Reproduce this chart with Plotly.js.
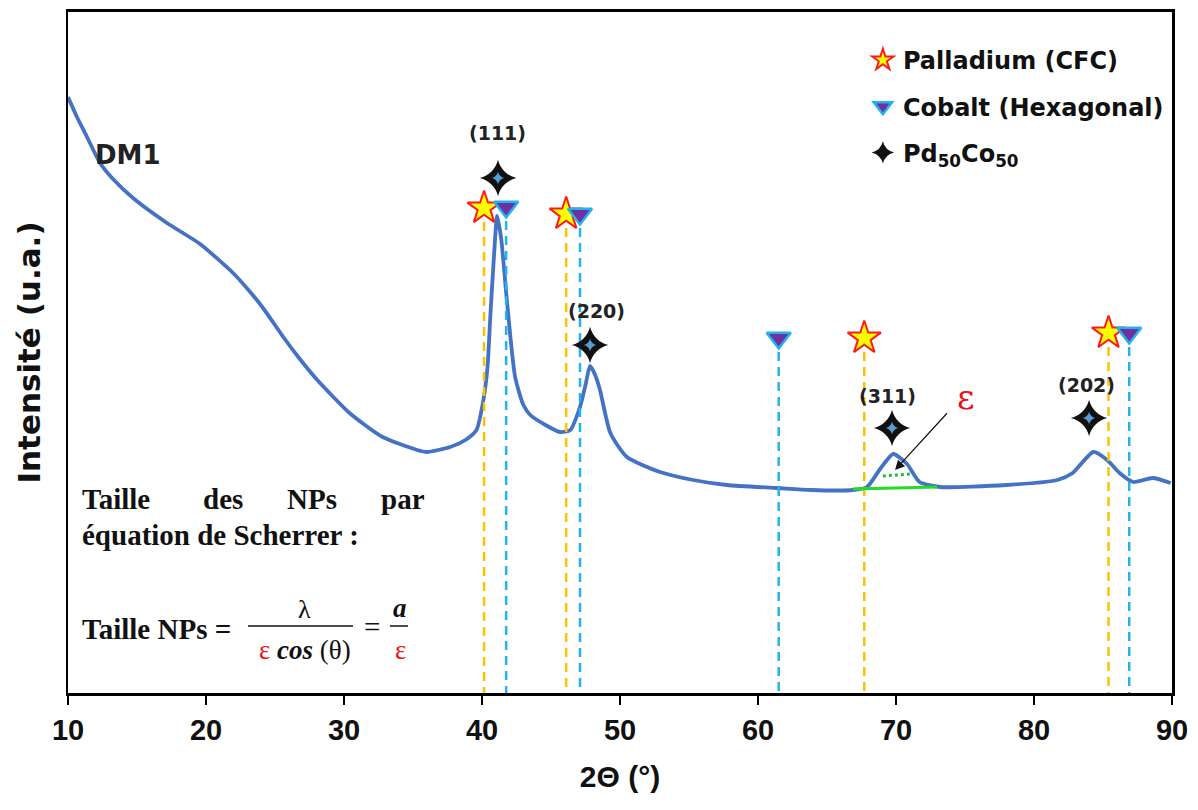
<!DOCTYPE html>
<html>
<head>
<meta charset="utf-8">
<script src="https://cdn.plot.ly/plotly-3.0.1.min.js"></script>
<style>html,body{margin:0;padding:0;background:#fff;}#chart{width:1198px;height:810px;}</style>
</head>
<body>
<div id="chart"></div>
<script>
// XRD pattern DM1 (2theta in degrees, intensity in arbitrary units)
const twoTheta = [10.0,10.65,11.38,12.32,13.26,14.71,17.17,19.57,21.96,23.2,24.13,25.0,25.6,26.8,28.0,30.4,32.8,35.3,36.0,37.7,38.8,39.6,40.1,40.4,40.6,40.85,41.1,41.4,41.8,42.4,43.0,43.5,44.6,45.65,46.4,47.1,47.5,47.83,48.2,48.55,49.3,50.5,52.9,55.3,57.75,61.4,63.8,66.9,67.9,68.8,69.8,70.8,71.7,73.2,78.0,81.7,82.8,84.3,85.3,86.2,87.2,88.6,89.9];
const intensity = [596,576,556,530,514,495,470,449,420,401,385,368,356,334,314,280,256,243,241,246,253,263,293,326,376,433,477,453,393,316,288,278,268,261,263,286,308,327,318,303,260,236,221,213,208,205,203,203,206,223,239,229,211,206,208,213,220,241,233,220,211,215,210];

// Reference peak positions
const pdPos = [40.15, 46.1, 67.7, 85.4];        // Palladium (CFC)
const pdMarkY = [485, 479, 355, 360];
const coPos = [41.75, 47.1, 61.5, 86.9];        // Cobalt (Hexagonal)
const coMarkY = [486, 479, 355, 360];
const pcPos = [41.16, 47.83, 69.71, 83.99];     // Pd50Co50
const pcMarkY = [515, 348, 265, 275];
const pcLabels = ['(111)', '(220)', '(311)', '(202)'];

// FWHM construction on (311) peak
const baseX = [66.88, 72.97];
const baseY = [204, 206];
const halfX = [69.05, 71.0];
const halfY = [217, 219];

const lineGap = 14;

const traces = [];
traces.push({x: twoTheta, y: intensity, mode: 'lines', line: {color: '#4472C4', width: 3.8, shape: 'spline', smoothing: 0.6}, showlegend: false, hoverinfo: 'skip'});

pdPos.forEach((p, i) => {
  traces.push({x: [p, p], y: [pdMarkY[i] - lineGap, 0], mode: 'lines', line: {color: '#FFC000', width: 2.5, dash: '9px,6px'}, showlegend: false, hoverinfo: 'skip'});
});
coPos.forEach((p, i) => {
  traces.push({x: [p, p], y: [coMarkY[i] - lineGap, 0], mode: 'lines', line: {color: '#1FB4F0', width: 2.5, dash: '9px,6px'}, showlegend: false, hoverinfo: 'skip'});
});

traces.push({x: baseX, y: baseY, mode: 'lines', line: {color: '#22DD22', width: 3}, showlegend: false, hoverinfo: 'skip'});
traces.push({x: halfX, y: halfY, mode: 'lines', line: {color: '#22BB44', width: 3, dash: 'dot'}, showlegend: false, hoverinfo: 'skip'});

traces.push({x: pdPos, y: pdMarkY, mode: 'markers', name: 'Palladium (CFC)', legendgroup: 'a',
  marker: {symbol: 'star', size: 25, color: '#FFFF00', line: {color: '#FF1A1A', width: 2}}});
traces.push({x: coPos, y: coMarkY, mode: 'markers', name: 'Cobalt (Hexagonal)', legendgroup: 'b',
  marker: {symbol: 'triangle-down', size: 21, color: '#7030A0', line: {color: '#1FB4F0', width: 2.5}}});
traces.push({x: pcPos, y: pcMarkY, mode: 'markers', name: 'Pd<sub>50</sub>Co<sub>50</sub>', legendgroup: 'c',
  marker: {symbol: 'star-diamond', size: 26, color: '#111111', line: {color: '#111111', width: 0}}});
traces.push({x: pcPos, y: pcMarkY, mode: 'markers', showlegend: false, hoverinfo: 'skip',
  marker: {symbol: 'star-diamond', size: 9, color: '#5B9BD5', line: {width: 0}}});

const serif = 'Liberation Serif, Times New Roman, serif';
const sans = 'DejaVu Sans, Arial, sans-serif';

const annotations = [];
pcLabels.forEach((t, i) => {
  annotations.push({x: pcPos[i] + [-0.07, 0.5, -0.3, -0.22][i], y: pcMarkY[i] + [45, 34, 32, 33][i], text: '<b>' + t + '</b>', showarrow: false,
    font: {family: sans, size: 19, color: '#222'}});
});
annotations.push({x: 14.35, y: 538, text: '<b>DM1</b>', showarrow: false, font: {family: sans, size: 26, color: '#222'}});
annotations.push({x: 75.1, y: 296, text: 'ε', showarrow: false, font: {family: 'DejaVu Serif, serif', size: 34, color: '#EE1111'}});
annotations.push({x: 69.93, y: 223, ax: 55, ay: -60, text: ' ', showarrow: true, arrowhead: 2, arrowsize: 1.6, arrowwidth: 1.2, arrowcolor: '#111'});

// Scherrer text block
const tf = {family: serif, size: 29, color: '#111'};
annotations.push({x: 10.87, y: 194, text: '<b>Taille</b>', xanchor: 'left', showarrow: false, font: tf});
annotations.push({x: 21.2, y: 194, text: '<b>des</b>', showarrow: false, font: tf});
annotations.push({x: 27.68, y: 194, text: '<b>NPs</b>', showarrow: false, font: tf});
annotations.push({x: 36.05, y: 194, text: '<b>par</b>', xanchor: 'right', showarrow: false, font: tf});
annotations.push({x: 10.87, y: 158, text: '<b>équation de Scherrer :</b>', xanchor: 'left', showarrow: false, font: tf});
annotations.push({x: 10.87, y: 64, text: '<b>Taille NPs =</b>', xanchor: 'left', showarrow: false, font: tf});
annotations.push({x: 27.17, y: 84, text: 'λ', showarrow: false, font: {family: serif, size: 26, color: '#111'}});
annotations.push({x: 27.17, y: 43, text: '<span style="color:#EE1111">ε</span> <b><i>cos</i></b> (θ)', showarrow: false, font: {family: serif, size: 27, color: '#111'}});
annotations.push({x: 32.03, y: 66, text: '=', showarrow: false, font: {family: serif, size: 29, color: '#111'}});
annotations.push({x: 34.06, y: 85, text: '<b><i>a</i></b>', showarrow: false, font: {family: serif, size: 27, color: '#111'}});
annotations.push({x: 34.06, y: 43, text: 'ε', showarrow: false, font: {family: serif, size: 27, color: '#EE1111'}});

const shapes = [
  {type: 'line', x0: 23.04, x1: 30.65, y0: 67, y1: 67, line: {color: '#111', width: 1.5}},
  {type: 'line', x0: 33.33, x1: 34.64, y0: 67, y1: 67, line: {color: '#111', width: 1.5}}
];

const layout = {
  width: 1198, height: 810,
  margin: {l: 68, r: 26, t: 12, b: 117},
  paper_bgcolor: '#fff', plot_bgcolor: '#fff',
  showlegend: true,
  legend: {x: 0.72, y: 0.962, xanchor: 'left', yanchor: 'top', bgcolor: 'rgba(0,0,0,0)', traceorder: 'grouped', tracegroupgap: 12,
    font: {family: sans, size: 24, color: '#111', weight: 'bold'}},
  xaxis: {range: [10, 90], dtick: 10, tick0: 10, showgrid: false, zeroline: false,
    showline: true, linecolor: '#000', linewidth: 3, mirror: true,
    ticks: 'outside', ticklen: 9, tickwidth: 2.5, tickcolor: '#000',
    tickfont: {family: 'Liberation Sans Narrow, Arial Narrow, Liberation Sans, sans-serif', size: 29, color: '#111', weight: 'bold'},
    title: {text: '2Θ (°)', standoff: 22, font: {family: 'Liberation Sans Narrow, Arial Narrow, Liberation Sans, sans-serif', size: 30, color: '#111', weight: 'bold'}}},
  yaxis: {range: [0, 681], showticklabels: false, ticks: '', showgrid: false, zeroline: false,
    showline: true, linecolor: '#000', linewidth: 2.5, mirror: true,
    title: {text: 'Intensité (u.a.)', standoff: 16, font: {family: sans, size: 31, color: '#111', weight: 'bold'}}},
  annotations: annotations,
  shapes: shapes
};

Plotly.newPlot('chart', traces, layout, {displayModeBar: false, staticPlot: true});
</script>
</body>
</html>
